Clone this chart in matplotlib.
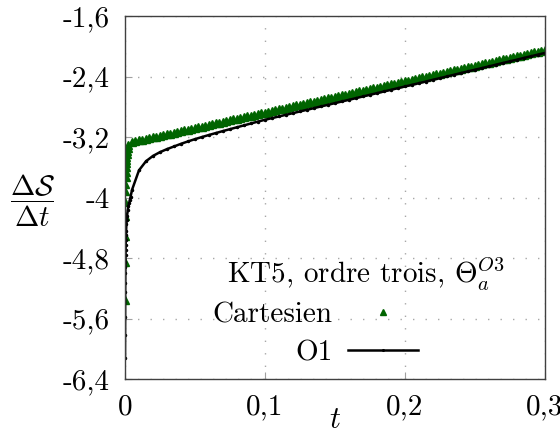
import numpy as np
import matplotlib
matplotlib.use("Agg")
import matplotlib.pyplot as plt

plt.rcParams['font.family'] = 'serif'
plt.rcParams['font.serif'] = ['cmr10', 'DejaVu Serif']
plt.rcParams['mathtext.fontset'] = 'cm'
plt.rcParams['axes.unicode_minus'] = False
plt.rcParams['axes.formatter.use_mathtext'] = True

# ---------------------------------------------------------------
# data
# Cartesien: first (very small) steps, then samples every 0.0025
t_start_cart = [0, 0.00005, 0.0001, 0.00015, 0.0002, 0.00025, 0.0003, 0.0004, 0.0005, 0.0006,
                0.0007, 0.0008, 0.001, 0.0012, 0.0015, 0.002]
s_start_cart = [-5.36, -4.85, -4.51, -4.24, -4.06, -3.92, -3.82, -3.73, -3.66, -3.60,
                -3.55, -3.51, -3.46, -3.42, -3.38, -3.34]

t_cart_steps = np.round(np.arange(1, 121) * 0.0025, 4)
s_cart = [-3.305, -3.270, -3.256, -3.245, -3.235, -3.225, -3.215, -3.205, -3.195, -3.184,
          -3.174, -3.164, -3.154, -3.143, -3.133, -3.123, -3.112, -3.102, -3.092, -3.081,
          -3.071, -3.061, -3.051, -3.040, -3.030, -3.020, -3.009, -2.999, -2.989, -2.978,
          -2.968, -2.958, -2.948, -2.937, -2.927, -2.917, -2.906, -2.896, -2.886, -2.876,
          -2.865, -2.855, -2.845, -2.834, -2.824, -2.814, -2.803, -2.793, -2.783, -2.773,
          -2.762, -2.752, -2.742, -2.731, -2.721, -2.711, -2.700, -2.690, -2.680, -2.670,
          -2.659, -2.649, -2.639, -2.628, -2.618, -2.608, -2.597, -2.587, -2.577, -2.567,
          -2.556, -2.546, -2.536, -2.525, -2.515, -2.505, -2.494, -2.484, -2.474, -2.464,
          -2.453, -2.443, -2.433, -2.422, -2.412, -2.402, -2.391, -2.381, -2.371, -2.361,
          -2.350, -2.340, -2.330, -2.319, -2.309, -2.299, -2.288, -2.278, -2.268, -2.258,
          -2.247, -2.237, -2.227, -2.216, -2.206, -2.196, -2.185, -2.175, -2.165, -2.155,
          -2.144, -2.134, -2.124, -2.113, -2.103, -2.093, -2.082, -2.072, -2.062, -2.052]

# O1: first steps, then samples every 0.005
t_start_o1 = [0, 0.00005, 0.0001, 0.00015, 0.0002, 0.00025, 0.0003, 0.00035, 0.0004, 0.00045,
              0.0005, 0.0006, 0.0007, 0.0008, 0.001, 0.0012, 0.0015, 0.002, 0.0025, 0.003,
              0.0035, 0.004]
s_start_o1 = [-6.12, -5.82, -5.58, -5.25, -5.13, -5.00, -4.92, -4.85, -4.76, -4.69,
              -4.63, -4.56, -4.50, -4.44, -4.35, -4.30, -4.24, -4.16, -4.11, -4.07,
              -4.03, -3.99]

t_o1_steps = np.round(np.arange(1, 61) * 0.005, 3)
s_o1 = [-3.90, -3.64, -3.52, -3.45, -3.40, -3.36, -3.325, -3.290, -3.258, -3.228,
        -3.200, -3.173, -3.147, -3.121, -3.096, -3.071, -3.046, -3.021, -2.996, -2.972,
        -2.950, -2.928, -2.906, -2.884, -2.862, -2.840, -2.818, -2.796, -2.774, -2.752,
        -2.730, -2.708, -2.686, -2.664, -2.642, -2.620, -2.598, -2.576, -2.554, -2.532,
        -2.510, -2.488, -2.466, -2.443, -2.421, -2.399, -2.377, -2.354, -2.332, -2.310,
        -2.288, -2.266, -2.243, -2.221, -2.199, -2.177, -2.154, -2.132, -2.110, -2.088]

x_ticks = [0, 0.1, 0.2, 0.3]
x_labels = ['0', '0,1', '0,2', '0,3']
y_ticks = [-6.4, -5.6, -4.8, -4.0, -3.2, -2.4, -1.6]
y_labels = ['-6,4', '-5,6', '-4,8', '-4', '-3,2', '-2,4', '-1,6']

t_cart = list(t_start_cart) + list(t_cart_steps)
v_cart = s_start_cart + s_cart
t_o1 = list(t_start_o1) + list(t_o1_steps)
v_o1 = s_start_o1 + s_o1

# ---------------------------------------------------------------
fig = plt.figure(figsize=(5.6, 4.34), dpi=100)
ax = fig.add_axes([0.2232, 0.1267, 0.75, 0.8364])

ax.plot(t_cart, v_cart, linestyle='none', marker='^', markersize=6,
        color='#006400', label='Cartesien')
ax.plot(t_o1, v_o1, color='black', linewidth=1.8, marker='.', markersize=3,
        label='O1')

ax.set_xlim(0, 0.3)
ax.set_ylim(-6.4, -1.6)
ax.set_xticks(x_ticks)
ax.set_xticklabels(x_labels)
ax.set_yticks(y_ticks)
ax.set_yticklabels(y_labels)
ax.tick_params(labelsize=21, direction='in', length=5, color='#a0a0a0')
ax.tick_params(axis='x', pad=11)
ax.tick_params(axis='y', pad=11)
ax.grid(True, color='#a8a8a8', linestyle=(0, (1, 8)), linewidth=1)
for sp in ax.spines.values():
    sp.set_color('#404040')
    sp.set_linewidth(1)

ax.set_xlabel('$t$', fontsize=22, va='center')
ax.xaxis.set_label_coords(0.5, -0.113)
ax.set_ylabel(r'$\dfrac{\Delta\mathcal{S}}{\Delta t}$', fontsize=21, rotation=0,
              ha='center', va='center')
ax.yaxis.set_label_coords(-0.221, 0.49)

leg = ax.legend(loc='lower right', bbox_to_anchor=(0.869, 0.034), frameon=False,
                markerfirst=False, fontsize=21, title=r'KT5, ordre trois, $\Theta_a^{O3}$',
                title_fontsize=21, alignment='left', handlelength=2.4, numpoints=1,
                labelspacing=0.4, borderpad=0, borderaxespad=0, handletextpad=0.55,
                markerscale=0.8)
# nudge the title (pixels) so it sits like in the original
leg.get_title().set_position((15, -2))

fig.savefig('out.png', dpi=100)
